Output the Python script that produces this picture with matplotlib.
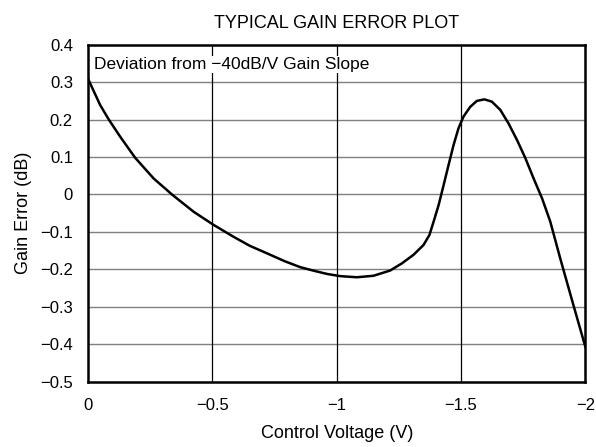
import matplotlib.pyplot as plt

plt.rcParams['font.family'] = ['Liberation Sans', 'DejaVu Sans']

# control voltage (V) and gain error (dB)
voltage = [0, -0.048, -0.082, -0.129, -0.189, -0.263, -0.337, -0.424, -0.504,
           -0.585, -0.65, -0.719, -0.79, -0.853, -0.91, -0.96, -1.014, -1.081,
           -1.148, -1.215, -1.262, -1.309, -1.349, -1.373, -1.39, -1.41, -1.43,
           -1.45, -1.47, -1.49, -1.51, -1.537, -1.564, -1.594, -1.624, -1.658,
           -1.691, -1.725, -1.759, -1.792, -1.826, -1.859, -1.899, -1.95, -2.0]
gain_err = [0.308, 0.239, 0.201, 0.154, 0.098, 0.043, 0.0, -0.046, -0.081,
            -0.113, -0.137, -0.157, -0.178, -0.194, -0.204, -0.212, -0.218, -0.221,
            -0.217, -0.203, -0.184, -0.161, -0.135, -0.108, -0.072, -0.028, 0.025,
            0.079, 0.132, 0.177, 0.208, 0.234, 0.25, 0.254, 0.248, 0.226,
            0.19, 0.146, 0.097, 0.043, -0.01, -0.072, -0.17, -0.29, -0.406]

x_ticks = [0, -0.5, -1, -1.5, -2]
x_labels = ['0', '\u22120.5', '\u22121', '\u22121.5', '\u22122']
y_ticks = [0.4, 0.3, 0.2, 0.1, 0, -0.1, -0.2, -0.3, -0.4, -0.5]
y_labels = ['0.4', '0.3', '0.2', '0.1', '0', '\u22120.1', '\u22120.2', '\u22120.3', '\u22120.4', '\u22120.5']

fig = plt.figure(figsize=(5.96, 4.47), dpi=100)
ax = fig.add_axes([0.148, 0.146, 0.834, 0.754])

for y in y_ticks[1:-1]:
    ax.axhline(y, color='#808080', lw=1.0, zorder=1)
for x in x_ticks[1:-1]:
    ax.axvline(x, color='black', lw=0.9, zorder=1)

ax.plot(voltage, gain_err, color='black', lw=1.8, zorder=3,
        solid_joinstyle='round')

ax.set_xlim(0, -2)
ax.set_ylim(-0.5, 0.4)
ax.set_xticks(x_ticks)
ax.set_xticklabels(x_labels)
ax.set_yticks(y_ticks)
ax.set_yticklabels(y_labels)
ax.tick_params(axis='x', length=0, labelsize=12, pad=12)
ax.tick_params(axis='y', length=0, labelsize=12, pad=11)
for s in ax.spines.values():
    s.set_linewidth(1.8)

ax.text(0.011, 0.941, 'Deviation from \u221240dB/V Gain Slope', transform=ax.transAxes,
        fontsize=12.5, va='center', ha='left', zorder=2,
        bbox=dict(facecolor='white', edgecolor='none', pad=1.0))

ax.set_title('TYPICAL GAIN ERROR PLOT', fontsize=13, pad=12)
ax.set_xlabel('Control Voltage (V)', fontsize=13, labelpad=8)
ax.set_ylabel('Gain Error (dB)', fontsize=13, labelpad=6)

fig.savefig('out.png', dpi=100)
